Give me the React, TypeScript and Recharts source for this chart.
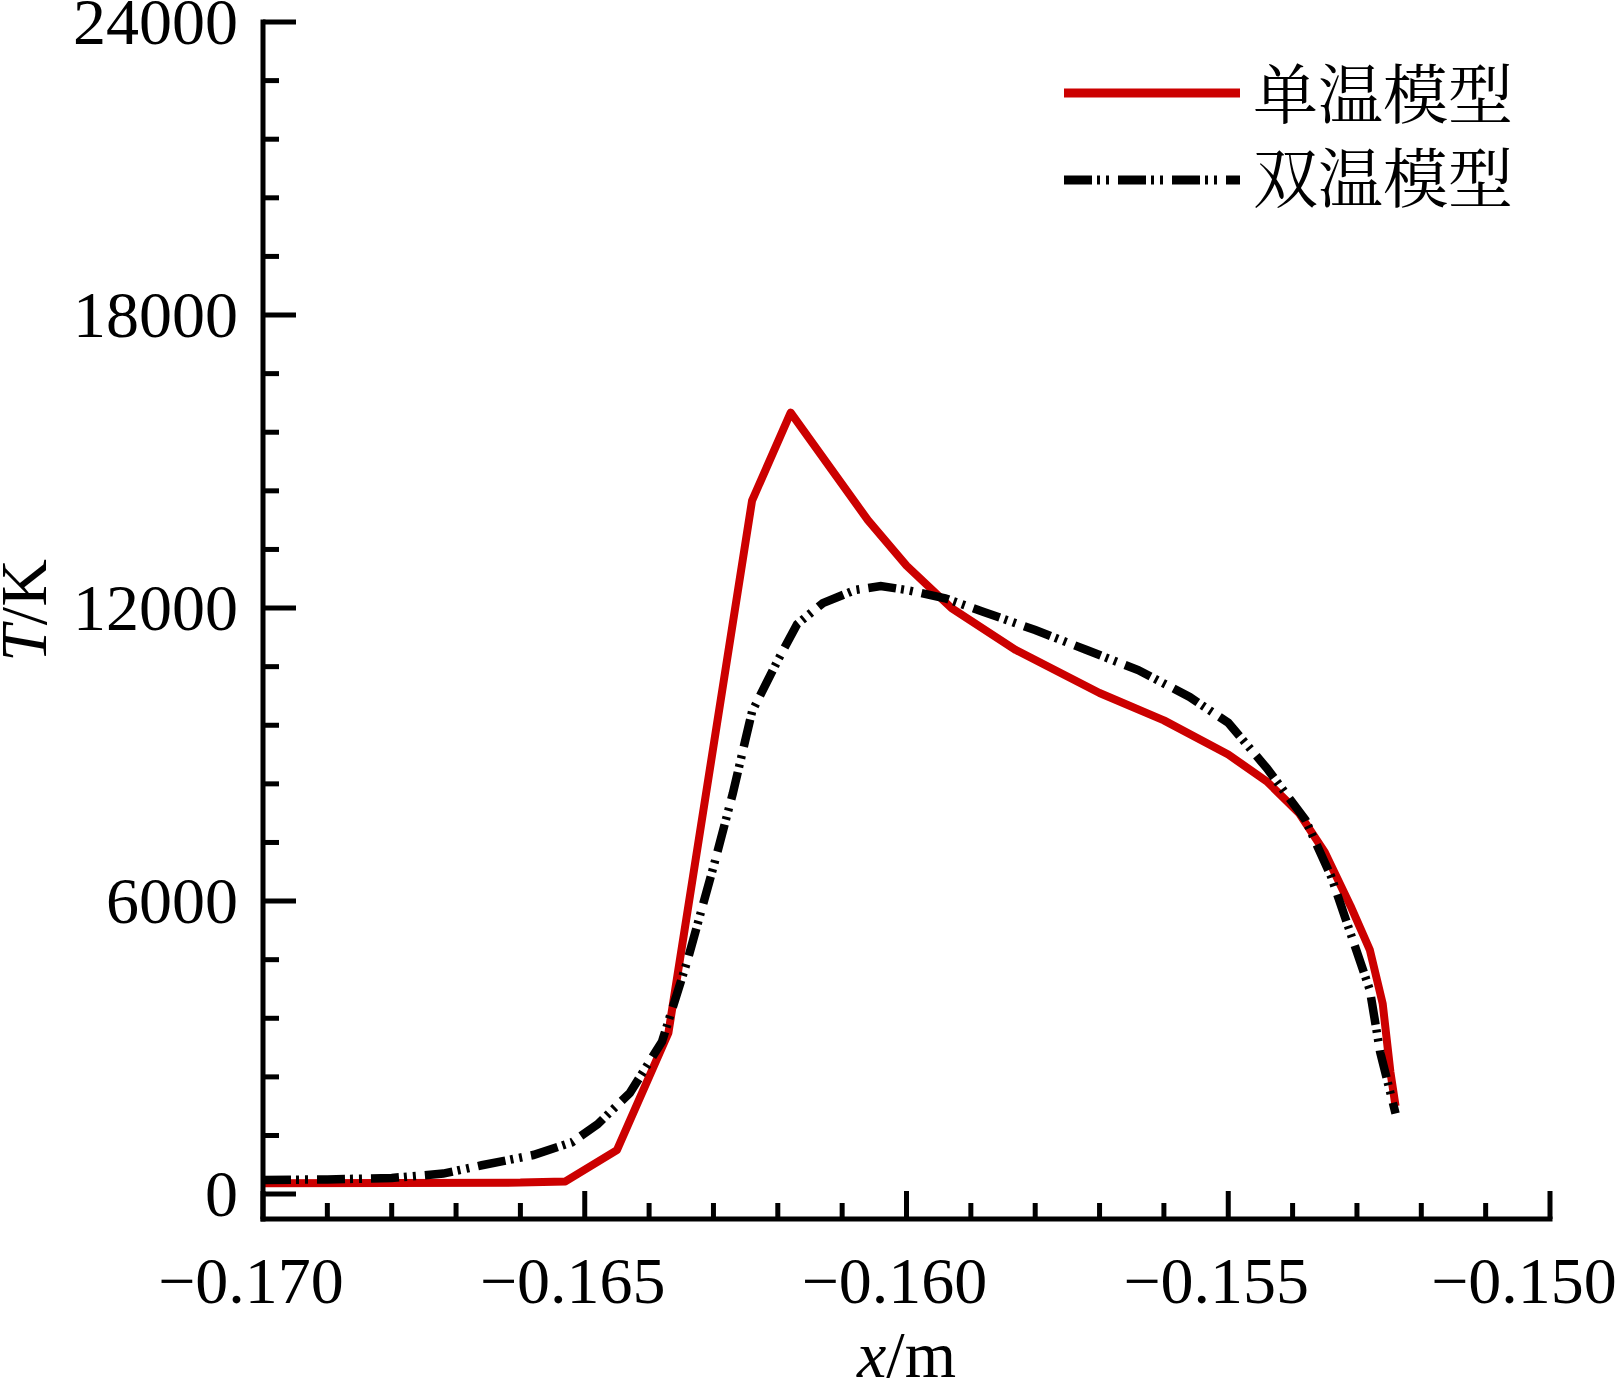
import React from "react";
import { LineChart, Line, XAxis, YAxis, Legend, Label } from "recharts";

// x positions of tick marks (m), labelled ones listed separately
const xTicks = [
  -0.17, -0.169, -0.168, -0.167, -0.166, -0.165, -0.164, -0.163, -0.162, -0.161, -0.16,
  -0.159, -0.158, -0.157, -0.156, -0.155, -0.154, -0.153, -0.152, -0.151, -0.15,
];
const xLabels = [-0.17, -0.165, -0.16, -0.155, -0.15];

const yTicks = [
  0, 1200, 2400, 3600, 4800, 6000, 7200, 8400, 9600, 10800, 12000, 13200, 14400, 15600,
  16800, 18000, 19200, 20400, 21600, 22800, 24000,
];
const yLabels = [0, 6000, 12000, 18000, 24000];

// 单温模型
const singleTemp = [
  { x: -0.17, t: 220 },
  { x: -0.168, t: 225 },
  { x: -0.166, t: 235 },
  { x: -0.1653, t: 260 },
  { x: -0.1645, t: 900 },
  { x: -0.1637, t: 3300 },
  { x: -0.1624, t: 14200 },
  { x: -0.1618, t: 16000 },
  { x: -0.1606, t: 13800 },
  { x: -0.16, t: 12870 },
  { x: -0.1593, t: 12000 },
  { x: -0.1583, t: 11140 },
  { x: -0.157, t: 10260 },
  { x: -0.156, t: 9700 },
  { x: -0.155, t: 9000 },
  { x: -0.1544, t: 8450 },
  { x: -0.1539, t: 7800 },
  { x: -0.1535, t: 7000 },
  { x: -0.1531, t: 5900 },
  { x: -0.1528, t: 5000 },
  { x: -0.1526, t: 3900 },
  { x: -0.15248, t: 2500 },
  { x: -0.1524, t: 1800 },
];

// 双温模型
const twoTemp = [
  { x: -0.17, t: 290 },
  { x: -0.169, t: 300 },
  { x: -0.168, t: 330 },
  { x: -0.1672, t: 420 },
  { x: -0.1666, t: 590 },
  { x: -0.1658, t: 800 },
  { x: -0.1652, t: 1060 },
  { x: -0.1648, t: 1430 },
  { x: -0.1643, t: 2070 },
  { x: -0.1638, t: 3120 },
  { x: -0.1634, t: 4800 },
  { x: -0.163, t: 6700 },
  { x: -0.1627, t: 8200 },
  { x: -0.1624, t: 9880 },
  { x: -0.162, t: 10930 },
  { x: -0.1617, t: 11670 },
  { x: -0.1613, t: 12100 },
  { x: -0.1608, t: 12370 },
  { x: -0.1604, t: 12450 },
  { x: -0.16, t: 12370 },
  { x: -0.1594, t: 12200 },
  { x: -0.1588, t: 11920 },
  { x: -0.158, t: 11550 },
  { x: -0.1572, t: 11140 },
  { x: -0.1564, t: 10730 },
  { x: -0.1556, t: 10180 },
  { x: -0.155, t: 9650 },
  { x: -0.1544, t: 8720 },
  { x: -0.1538, t: 7660 },
  { x: -0.1534, t: 6500 },
  { x: -0.1531, t: 5340 },
  { x: -0.1528, t: 4180 },
  { x: -0.15264, t: 2910 },
  { x: -0.15248, t: 2070 },
  { x: -0.1524, t: 1650 },
];

const serif = "'Liberation Serif', 'Times New Roman', serif";
const cjk = "'Noto Serif CJK SC', 'Noto Sans CJK SC', sans-serif";
const RED = "#cc0000";
const DASH = "28 5 3 6 3 9";

const isIn = (list: number[], v: number) => list.some((m) => Math.abs(m - v) < 1e-7);
const fmtX = (v: number) => v.toFixed(3).replace("-", "\u2212");

const XTick = ({ x, y, payload }: any) => {
  const v = payload.value;
  const major = isIn(xLabels, v);
  const last = Math.abs(v - xLabels[xLabels.length - 1]) < 1e-7;
  return (
    <g>
      <line x1={x} x2={x} y1={y} y2={y - (major ? 28 : 16)} stroke="#000" strokeWidth={5} />
      {major && (
        <text
          x={x + (last ? -26 : -12)}
          y={y + 84}
          textAnchor="middle"
          fontSize={66}
          fontFamily={serif}
          fill="#000"
        >
          {fmtX(v)}
        </text>
      )}
    </g>
  );
};

const YTick = ({ x, y, payload }: any) => {
  const v = payload.value;
  const major = isIn(yLabels, v);
  return (
    <g>
      <line x1={x} x2={x + (major ? 33 : 16)} y1={y} y2={y} stroke="#000" strokeWidth={5} />
      {major && (
        <text x={x - 25} y={y + 22} textAnchor="end" fontSize={66} fontFamily={serif} fill="#000">
          {v}
        </text>
      )}
    </g>
  );
};

const YTitle = ({ viewBox }: any) => {
  const cx = viewBox.x + 46;
  const cy = viewBox.y + viewBox.height / 2 - 10;
  return (
    <text
      x={cx}
      y={cy}
      transform={`rotate(-90 ${cx} ${cy})`}
      textAnchor="middle"
      fontSize={66}
      fontFamily={serif}
      fill="#000"
    >
      <tspan fontStyle="italic">T</tspan>/K
    </text>
  );
};

const XTitle = ({ viewBox }: any) => (
  <text
    x={viewBox.x + viewBox.width / 2}
    y={viewBox.y + 158}
    textAnchor="middle"
    fontSize={66}
    fontFamily={serif}
    fill="#000"
  >
    <tspan fontStyle="italic">x</tspan>/m
  </text>
);

const renderLegend = () => (
  <svg width={570} height={190}>
    <line x1={24} x2={200} y1={53} y2={53} stroke={RED} strokeWidth={9} />
    <text x={213} y={78} fontSize={65} fontFamily={cjk} fill="#000">
      单温模型
    </text>
    <line x1={24} x2={200} y1={140} y2={140} stroke="#000" strokeWidth={9} strokeDasharray={DASH} />
    <text x={213} y={162} fontSize={65} fontFamily={cjk} fill="#000">
      双温模型
    </text>
  </svg>
);

export default function App() {
  return (
    <div>
      <style>{"body{margin:0;background:#fff}"}</style>
      <LineChart width={1617} height={1380} margin={{ top: 22, right: 67, bottom: 0, left: 0 }}>
        <XAxis
          type="number"
          dataKey="x"
          domain={[-0.17, -0.15]}
          allowDataOverflow
          ticks={xTicks}
          interval={0}
          tick={<XTick />}
          tickSize={0}
          tickMargin={0}
          tickLine={false}
          height={161}
          axisLine={{ stroke: "#000", strokeWidth: 5, strokeLinecap: "square" }}
        >
          <Label content={<XTitle />} />
        </XAxis>
        <YAxis
          type="number"
          dataKey="t"
          domain={[-510, 24000]}
          allowDataOverflow
          ticks={yTicks}
          interval={0}
          tick={<YTick />}
          tickSize={0}
          tickMargin={0}
          tickLine={false}
          width={263}
          axisLine={{ stroke: "#000", strokeWidth: 5, strokeLinecap: "square" }}
        >
          <Label content={<YTitle />} />
        </YAxis>
        <Legend
          layout="horizontal"
          verticalAlign="middle"
          align="center"
          wrapperStyle={{ position: "absolute", left: 1040, top: 40, width: 570, height: 190 }}
          content={renderLegend}
        />
        <Line
          data={singleTemp}
          dataKey="t"
          name="单温模型"
          type="linear"
          stroke={RED}
          strokeWidth={8}
          strokeLinejoin="round"
          dot={false}
          isAnimationActive={false}
        />
        <Line
          data={twoTemp}
          dataKey="t"
          name="双温模型"
          type="linear"
          stroke="#000"
          strokeWidth={8.5}
          strokeDasharray={DASH}
          dot={false}
          isAnimationActive={false}
        />
      </LineChart>
    </div>
  );
}
